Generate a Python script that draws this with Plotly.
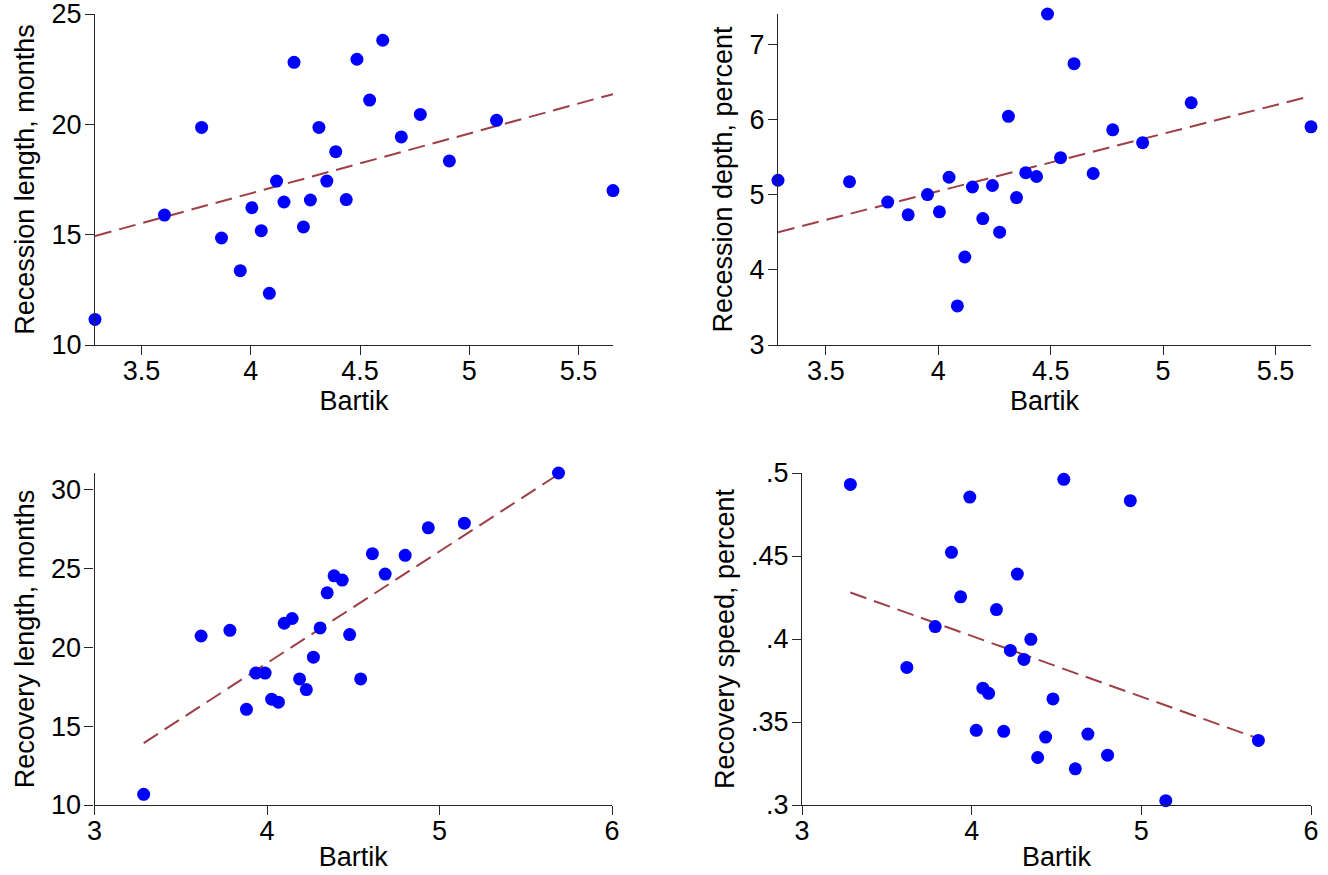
import numpy as np
import plotly.graph_objects as go

# ---------------- data ----------------
bartik_top = [3.287, 3.605, 3.775, 3.866, 3.952, 4.005, 4.048, 4.085, 4.118, 4.152,
              4.198, 4.241, 4.273, 4.312, 4.348, 4.389, 4.437, 4.486, 4.544, 4.604,
              4.689, 4.776, 4.909, 5.125, 5.658]
recession_length = [11.16, 15.89, 19.86, 14.85, 13.37, 16.22, 15.18, 12.34, 17.43, 16.48,
                    22.81, 15.35, 16.57, 19.86, 17.43, 18.76, 16.59, 22.95, 21.10, 23.81,
                    19.43, 20.45, 18.34, 20.18, 17.00]
recession_depth = [5.19, 5.17, 4.90, 4.73, 5.00, 4.77, 5.23, 3.52, 4.17, 5.10,
                   4.68, 5.12, 4.50, 6.04, 4.96, 5.29, 5.24, 7.40, 5.49, 6.74,
                   5.28, 5.86, 5.69, 6.22, 5.90]

bartik_bottom = [3.285, 3.618, 3.785, 3.881, 3.935, 3.989, 4.027, 4.066, 4.100, 4.146,
                 4.189, 4.228, 4.269, 4.308, 4.349, 4.389, 4.436, 4.479, 4.543, 4.611,
                 4.685, 4.801, 4.935, 5.144, 5.690]
recovery_length = [10.68, 20.72, 21.08, 16.07, 18.37, 18.37, 16.71, 16.52, 21.53, 21.83,
                   18.00, 17.32, 19.38, 21.23, 23.46, 24.54, 24.27, 20.81, 18.00, 25.94,
                   24.65, 25.84, 27.58, 27.88, 31.06]
recovery_speed = [0.4931, 0.3829, 0.4075, 0.4522, 0.4254, 0.4855, 0.3450, 0.3704, 0.3673, 0.4177,
                  0.3444, 0.3931, 0.4391, 0.3877, 0.3998, 0.3286, 0.3409, 0.3639, 0.4962, 0.3218,
                  0.3427, 0.3300, 0.4833, 0.3026, 0.3389]

# fitted-line values (as shown in the chart) at the lowest and highest Bartik value
fit_recession_length = [14.94, 21.37]
fit_recession_depth = [4.50, 6.31]
fit_recovery_length = [13.93, 30.98]
fit_recovery_speed = [0.428, 0.340]

x_ticks_top = [3.5, 4, 4.5, 5, 5.5]
x_ticks_top_text = ["3.5", "4", "4.5", "5", "5.5"]
x_ticks_bottom = [3, 4, 5, 6]
x_ticks_bottom_text = ["3", "4", "5", "6"]
y_ticks_1 = [10, 15, 20, 25]
y_ticks_2 = [3, 4, 5, 6, 7]
y_ticks_3 = [10, 15, 20, 25, 30]
y_ticks_4 = [0.3, 0.35, 0.4, 0.45, 0.5]
y_ticks_4_text = [".3", ".35", ".4", ".45", ".5"]

x_title = "Bartik"
y_titles = ["Recession length, months", "Recession depth, percent",
            "Recovery length, months", "Recovery speed, percent"]

# ---------------- layout helpers ----------------
W, H = 1328, 875
def dom_x(a, b):
    return [a / W, b / W]
def dom_y(top, bottom):
    return [1 - bottom / H, 1 - top / H]

MARKER = "#0000ff"
FIT = "#9e3f48"
AXC = "#262626"
FONT = "Liberation Sans, Arial, sans-serif"
FS = 27

panels = [
    dict(x=bartik_top, y=recession_length, fit=fit_recession_length,
         xd=dom_x(95, 613), yd=dom_y(14, 345),
         xr=[min(bartik_top), max(bartik_top)], yr=[10, 25],
         xt=x_ticks_top, xtt=x_ticks_top_text, yt=y_ticks_1, ytt=[str(v) for v in y_ticks_1]),
    dict(x=bartik_top, y=recession_depth, fit=fit_recession_depth,
         xd=dom_x(778, 1311), yd=dom_y(14, 345),
         xr=[min(bartik_top), max(bartik_top)], yr=[3, max(recession_depth)],
         xt=x_ticks_top, xtt=x_ticks_top_text, yt=y_ticks_2, ytt=[str(v) for v in y_ticks_2]),
    dict(x=bartik_bottom, y=recovery_length, fit=fit_recovery_length,
         xd=dom_x(94.5, 612), yd=dom_y(473, 805),
         xr=[3, 6], yr=[10, max(recovery_length)],
         xt=x_ticks_bottom, xtt=x_ticks_bottom_text, yt=y_ticks_3, ytt=[str(v) for v in y_ticks_3]),
    dict(x=bartik_bottom, y=recovery_speed, fit=fit_recovery_speed,
         xd=dom_x(802, 1311), yd=dom_y(473, 805),
         xr=[3, 6], yr=[0.3, 0.5],
         xt=x_ticks_bottom, xtt=x_ticks_bottom_text, yt=y_ticks_4, ytt=y_ticks_4_text),
]

fig = go.Figure()
layout = dict(
    width=W, height=H, margin=dict(l=0, r=0, t=0, b=0),
    paper_bgcolor="white", plot_bgcolor="white", showlegend=False,
    font=dict(family=FONT, size=FS, color="black"),
)

for i, p in enumerate(panels):
    n = i + 1
    xa = "x" if n == 1 else f"x{n}"
    ya = "y" if n == 1 else f"y{n}"
    xs = np.array(p["x"])
    ys = np.array(p["y"])
    xf = [xs.min(), xs.max()]
    fig.add_trace(go.Scatter(x=xf, y=p["fit"], mode="lines", xaxis=xa, yaxis=ya,
                             line=dict(color=FIT, width=2, dash="17px,8px"), hoverinfo="skip",
                             cliponaxis=False))
    fig.add_trace(go.Scatter(x=xs, y=ys, mode="markers", xaxis=xa, yaxis=ya,
                             marker=dict(color=MARKER, size=13, line=dict(width=0)), cliponaxis=False))
    common = dict(showgrid=False, zeroline=False, showline=True, linecolor=AXC, linewidth=1.3,
                  ticks="outside", ticklen=9, tickwidth=1.3, tickcolor=AXC, automargin=False,
                  ticklabeloverflow="allow",
                  tickfont=dict(family=FONT, size=FS, color="black"))
    layout["xaxis" if n == 1 else f"xaxis{n}"] = dict(
        domain=p["xd"], range=p["xr"], anchor=ya, tickvals=p["xt"], ticktext=p["xtt"],
        ticklabelstandoff=-8,
        title=dict(text=x_title, font=dict(family=FONT, size=FS), standoff=2), **common)
    layout["yaxis" if n == 1 else f"yaxis{n}"] = dict(
        domain=p["yd"], range=p["yr"], anchor=xa, tickvals=p["yt"], ticktext=p["ytt"],
        tickangle=0, ticklabelstandoff=-2,
        title=dict(text=y_titles[i], font=dict(family=FONT, size=FS), standoff=8), **common)

fig.update_layout(**layout)
fig.write_html("out.html", config={"displayModeBar": False},
               post_script="document.body.style.margin='0px';document.body.style.overflow='hidden';")
